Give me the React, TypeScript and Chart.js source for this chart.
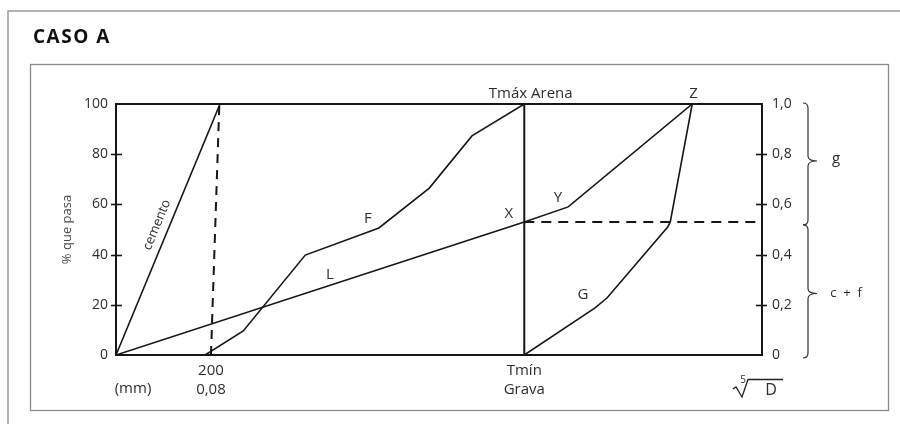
import { useEffect, useRef } from "react";
import { Chart, registerables } from "chart.js";

Chart.register(...registerables);

// Eje horizontal esquemático (quinta raíz del tamaño, 0–100) y % que pasa
const cementoX = [0, 16.1];
const cementoY = [0, 100];
const tamiz200X = [14.7, 16.0];
const tamiz200Y = [0, 100];
const arenaFX = [13.8, 19.7, 29.3, 40.7, 48.5, 55.1, 63.2];
const arenaFY = [0, 9.6, 39.8, 50.6, 66.5, 87.3, 100];
const rectaLX = [0, 63.2];
const rectaLY = [0, 53];
const arenaMaxX = [63.2, 63.2];
const arenaMaxY = [0, 100];
const tramoXYZX = [63.2, 70.0, 89.2];
const tramoXYZY = [53, 59, 100];
const gravaGX = [63.2, 74.1, 76.0, 85.4, 85.8, 89.2];
const gravaGY = [0, 18.7, 22.7, 51.0, 53.0, 100];
const divisionX = [63.2, 100];
const divisionY = [53, 53];

const ejeXTicks = [14.7, 63.2];
const ejeXEtiquetas = [["200", "0,08"], ["Tmín", "Grava"]];
const ejeDerEtiquetas = ["0", "0,2", "0,4", "0,6", "0,8", "1,0"];
const fraccionGruesa = 0.53;

const FONT = '"Open Sans", "DejaVu Sans", sans-serif';
const INK = "#161616";
const TEXT = "#2e2e2e";

const pts = (xs: number[], ys: number[]) => xs.map((x, i) => ({ x, y: ys[i] }));

function llave(ctx: CanvasRenderingContext2D, x: number, y0: number, y1: number, ym: number) {
  const r = 5;
  ctx.beginPath();
  ctx.moveTo(x - r, y0);
  ctx.quadraticCurveTo(x, y0, x, y0 + r);
  ctx.lineTo(x, ym - r);
  ctx.quadraticCurveTo(x, ym, x + 9, ym);
  ctx.quadraticCurveTo(x, ym, x, ym + r);
  ctx.lineTo(x, y1 - r);
  ctx.quadraticCurveTo(x, y1, x - r, y1);
  ctx.stroke();
}

const decoracion = {
  id: "decoracion",
  afterDraw(chart: any) {
    const { ctx, chartArea: a, scales } = chart;
    const x = scales.x, y = scales.y, y2 = scales.y2;
    ctx.save();

    // marco exterior y recuadro del gráfico
    ctx.strokeStyle = "#9a9a9a";
    ctx.lineWidth = 1.5;
    ctx.beginPath();
    ctx.moveTo(8, 424);
    ctx.lineTo(8, 11);
    ctx.lineTo(900, 11);
    ctx.stroke();
    ctx.strokeStyle = "#8a8a8a";
    ctx.lineWidth = 1.3;
    ctx.strokeRect(30.5, 64.5, 858, 346);

    // título
    ctx.fillStyle = "#111";
    ctx.font = `bold 19px ${FONT}`;
    (ctx as any).letterSpacing = "1.5px";
    ctx.textAlign = "left";
    ctx.textBaseline = "alphabetic";
    ctx.fillText("CASO A", 33, 43);
    (ctx as any).letterSpacing = "0px";

    // borde superior del área
    ctx.strokeStyle = INK;
    ctx.lineWidth = 2;
    ctx.beginPath();
    ctx.moveTo(a.left - 1, a.top);
    ctx.lineTo(a.right + 1, a.top);
    ctx.stroke();

    // marcas que cruzan los ejes
    ctx.lineWidth = 1.6;
    [20, 40, 60, 80].forEach((v) => {
      const py = Math.round(y.getPixelForValue(v)) + 0.5;
      ctx.beginPath();
      ctx.moveTo(a.left - 5, py);
      ctx.lineTo(a.left + 6, py);
      ctx.stroke();
    });
    [0.2, 0.4, 0.6, 0.8].forEach((v) => {
      const py = Math.round(y2.getPixelForValue(v)) + 0.5;
      ctx.beginPath();
      ctx.moveTo(a.right - 6, py);
      ctx.lineTo(a.right + 5, py);
      ctx.stroke();
    });

    // llaves g y c + f
    const yTop = y2.getPixelForValue(1);
    const ySplit = y2.getPixelForValue(fraccionGruesa);
    const yBot = y2.getPixelForValue(0);
    ctx.strokeStyle = "#333";
    ctx.lineWidth = 1.2;
    llave(ctx, 808, yTop - 1, ySplit + 3, (yTop + ySplit) / 2 - 2);
    llave(ctx, 808, ySplit + 3, yBot + 3, (ySplit + yBot) / 2 + 5);
    ctx.fillStyle = TEXT;
    ctx.textAlign = "center";
    ctx.textBaseline = "middle";
    ctx.font = `15px ${FONT}`;
    ctx.fillText("g", 836, (yTop + ySplit) / 2 - 4);
    ctx.font = `13px ${FONT}`;
    ctx.fillText("c  +  f", 846, (ySplit + yBot) / 2 + 5);

    // rótulos de curvas y puntos
    const at = (dx: number, dy: number) => [x.getPixelForValue(dx), y.getPixelForValue(dy)];
    ctx.font = `15px ${FONT}`;
    ctx.textBaseline = "alphabetic";
    const rot = (t: string, dx: number, dy: number) => {
      const [px, py] = at(dx, dy);
      ctx.fillText(t, px, py);
    };
    rot("Tmáx Arena", 64.2, 102.4);
    rot("Z", 89.4, 102.4);
    rot("Y", 68.4, 61);
    rot("X", 60.8, 54.7);
    rot("F", 39.0, 52.5);
    rot("L", 33.1, 30.3);
    rot("G", 72.3, 22.3);

    // «cemento» a lo largo de su recta
    const [cx0, cy0] = at(cementoX[0], cementoY[0]);
    const [cx1, cy1] = at(cementoX[1], cementoY[1]);
    const ang = Math.atan2(cy1 - cy0, cx1 - cx0);
    const [mx, my] = at(cementoX[1] * 0.5, 50);
    ctx.save();
    ctx.translate(mx, my);
    ctx.rotate(ang);
    ctx.font = `13px ${FONT}`;
    ctx.textAlign = "center";
    ctx.textBaseline = "middle";
    ctx.fillText("cemento", 0, -12);
    ctx.restore();

    // unidades bajo el eje
    ctx.font = `15px ${FONT}`;
    ctx.textAlign = "center";
    ctx.textBaseline = "middle";
    ctx.fillText("(mm)", 133, 389);

    // raíz quinta de D
    ctx.strokeStyle = "#222";
    ctx.lineWidth = 1.3;
    ctx.beginPath();
    ctx.moveTo(733, 389);
    ctx.lineTo(736, 387);
    ctx.lineTo(742, 397);
    ctx.lineTo(748, 379.5);
    ctx.lineTo(783, 379.5);
    ctx.stroke();
    ctx.font = `10px ${FONT}`;
    ctx.fillText("5", 743, 380);
    ctx.font = `16px ${FONT}`;
    ctx.fillText("D", 771, 390);

    ctx.restore();
  },
};

export default function App() {
  const ref = useRef<HTMLCanvasElement>(null);

  useEffect(() => {
    const linea = (data: { x: number; y: number }[], extra: any = {}) => ({
      data,
      showLine: true,
      borderColor: INK,
      borderWidth: 1.6,
      pointRadius: 0,
      fill: false,
      tension: 0,
      ...extra,
    });

    const chart = new Chart(ref.current!, {
      type: "scatter",
      data: {
        datasets: [
          linea(pts(cementoX, cementoY), { label: "cemento" }),
          linea(pts(tamiz200X, tamiz200Y), { label: "tamiz 200", borderDash: [9, 7], borderWidth: 2 }),
          linea(pts(arenaFX, arenaFY), { label: "F" }),
          linea(pts(rectaLX, rectaLY), { label: "L" }),
          linea(pts(arenaMaxX, arenaMaxY), { label: "Tmáx Arena", borderWidth: 2 }),
          linea(pts(tramoXYZX, tramoXYZY), { label: "X-Y-Z" }),
          linea(pts(gravaGX, gravaGY), { label: "G" }),
          linea(pts(divisionX, divisionY), { label: "división", borderDash: [10, 7], borderWidth: 2 }),
        ],
      },
      options: {
        responsive: false,
        animation: false,
        events: [],
        layout: { padding: { top: 104, left: 0, right: 0, bottom: 0 } },
        plugins: { legend: { display: false }, tooltip: { enabled: false } },
        scales: {
          x: {
            type: "linear",
            min: 0,
            max: 100,
            grid: { display: false, drawTicks: false },
            border: { display: true, color: INK, width: 2 },
            afterFit: (s: any) => { s.height = 69; },
            afterBuildTicks: (s: any) => { s.ticks = ejeXTicks.map((v) => ({ value: v })); },
            ticks: {
              autoSkip: false,
              maxRotation: 0,
              padding: 6,
              color: TEXT,
              font: { family: FONT, size: 15, lineHeight: 1.27 },
              callback: (_v: any, i: number) => ejeXEtiquetas[i],
            },
          },
          y: {
            position: "left",
            min: 0,
            max: 100,
            grid: { display: false, drawTicks: false },
            border: { display: true, color: INK, width: 2 },
            afterFit: (s: any) => { s.width = 116; },
            ticks: { stepSize: 20, padding: 8, color: TEXT, font: { family: FONT, size: 14 } },
            title: {
              display: true,
              text: "% que pasa",
              color: "#4a4a4a",
              font: { family: FONT, size: 13 },
              padding: { top: 59, bottom: 0 },
            },
          },
          y2: {
            position: "right",
            min: 0,
            max: 1,
            grid: { display: false, drawTicks: false },
            border: { display: true, color: INK, width: 2 },
            afterFit: (s: any) => { s.width = 138; },
            ticks: {
              stepSize: 0.2,
              padding: 10,
              color: TEXT,
              font: { family: FONT, size: 14 },
              callback: (_v: any, i: number) => ejeDerEtiquetas[i],
            },
          },
        },
      },
      plugins: [decoracion],
    } as any);

    return () => chart.destroy();
  }, []);

  return (
    <div style={{ position: "absolute", left: 0, top: 0, width: 900, height: 424, background: "#fff" }}>
      <canvas ref={ref} width={900} height={424} style={{ display: "block", width: 900, height: 424 }} />
    </div>
  );
}
